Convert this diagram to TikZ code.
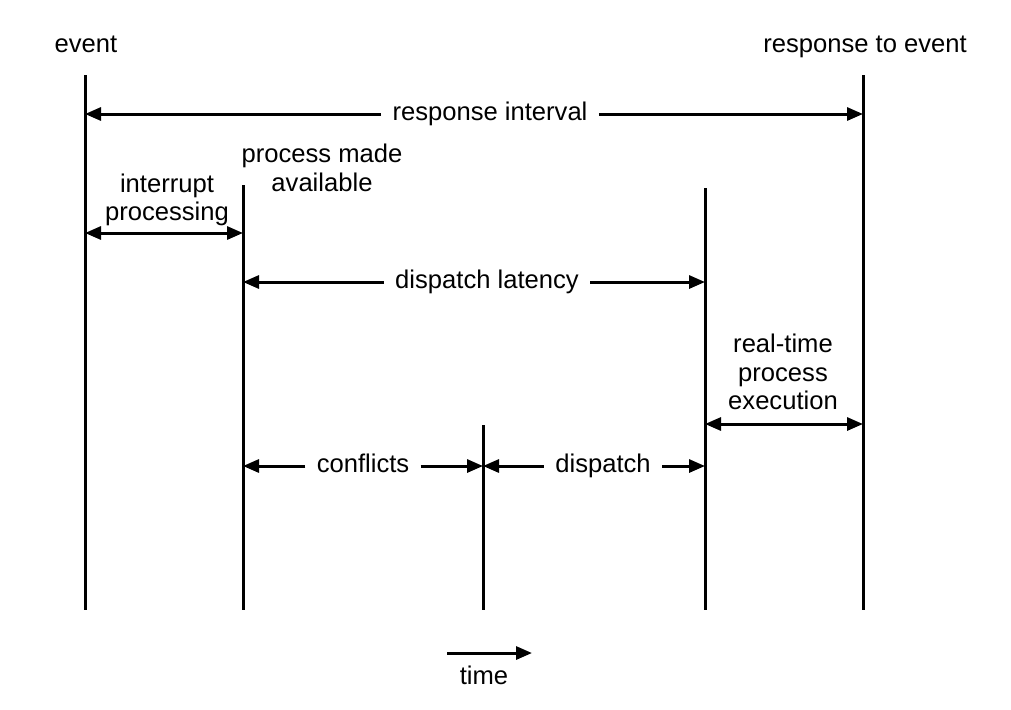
\documentclass[tikz,border=0pt]{standalone}
\usepackage{fontspec}
\setmainfont{Liberation Sans}
\usetikzlibrary{arrows.meta}
\begin{document}
\begin{tikzpicture}[x=0.5pt,y=-0.5pt,line width=1.5pt,
		tip/.style={-{Triangle[length=8pt,width=6.5pt]}},
		tips/.style={{Triangle[length=8pt,width=6.5pt]}-{Triangle[length=8pt,width=6.5pt]}},
		lbl/.style={inner xsep=5pt,inner ysep=1pt,align=center,font=\fontsize{12.8}{14.2}\selectfont},
		word/.style={lbl,text height=9.4pt,text depth=2.7pt}]
	\useasboundingbox (0,0) rectangle (1011,709);
	% vertical time lines
	\foreach \n/\x/\t in {ev/85/75,pm/243/185,cf/483/425,dp/705/188,re/863/75}{
		\coordinate (\n-t) at (\x,\t);
		\coordinate (\n-b) at (\x,610);
		\draw (\n-t) -- (\n-b);
	}
	\node[word] (evl) at (86,46) {event};
	\node[word] (rel) at (865,46) {response to event};
	\node[lbl] (pml) at (322,168) {process made\\available};
	% response interval
	\node[word] (ri) at (490,114) {response interval};
	\draw[tip] (ri) -- (ev-t |- ri);
	\draw[tip] (ri) -- (re-t |- ri);
	% interrupt processing
	\node[lbl] (ip) at (167,200) {interrupt\\processing};
	\draw[tips] (ev-t |- 0,233) -- (pm-t |- 0,233);
	% dispatch latency
	\node[word] (dl) at (487,282) {dispatch latency};
	\draw[tip] (dl) -- (pm-t |- dl);
	\draw[tip] (dl) -- (dp-t |- dl);
	% real-time process execution
	\node[lbl] (rt) at (783,372) {real-time\\process\\execution};
	\draw[tips] (dp-t |- 0,424) -- (re-t |- 0,424);
	% conflicts and dispatch
	\node[word] (co) at (363,466) {conflicts};
	\draw[tip] (co) -- (pm-t |- co);
	\draw[tip] (co) -- (cf-t |- co);
	\node[word] (di) at (603,466) {dispatch};
	\draw[tip] (di) -- (cf-t |- di);
	\draw[tip] (di) -- (dp-t |- di);
	% time
	\node[word] (tm) at (484,678) {time};
	\coordinate (t0) at (447,653);
	\coordinate (t1) at (532,653);
	\draw[tip] (t0) -- (t1);
\end{tikzpicture}
\end{document}
